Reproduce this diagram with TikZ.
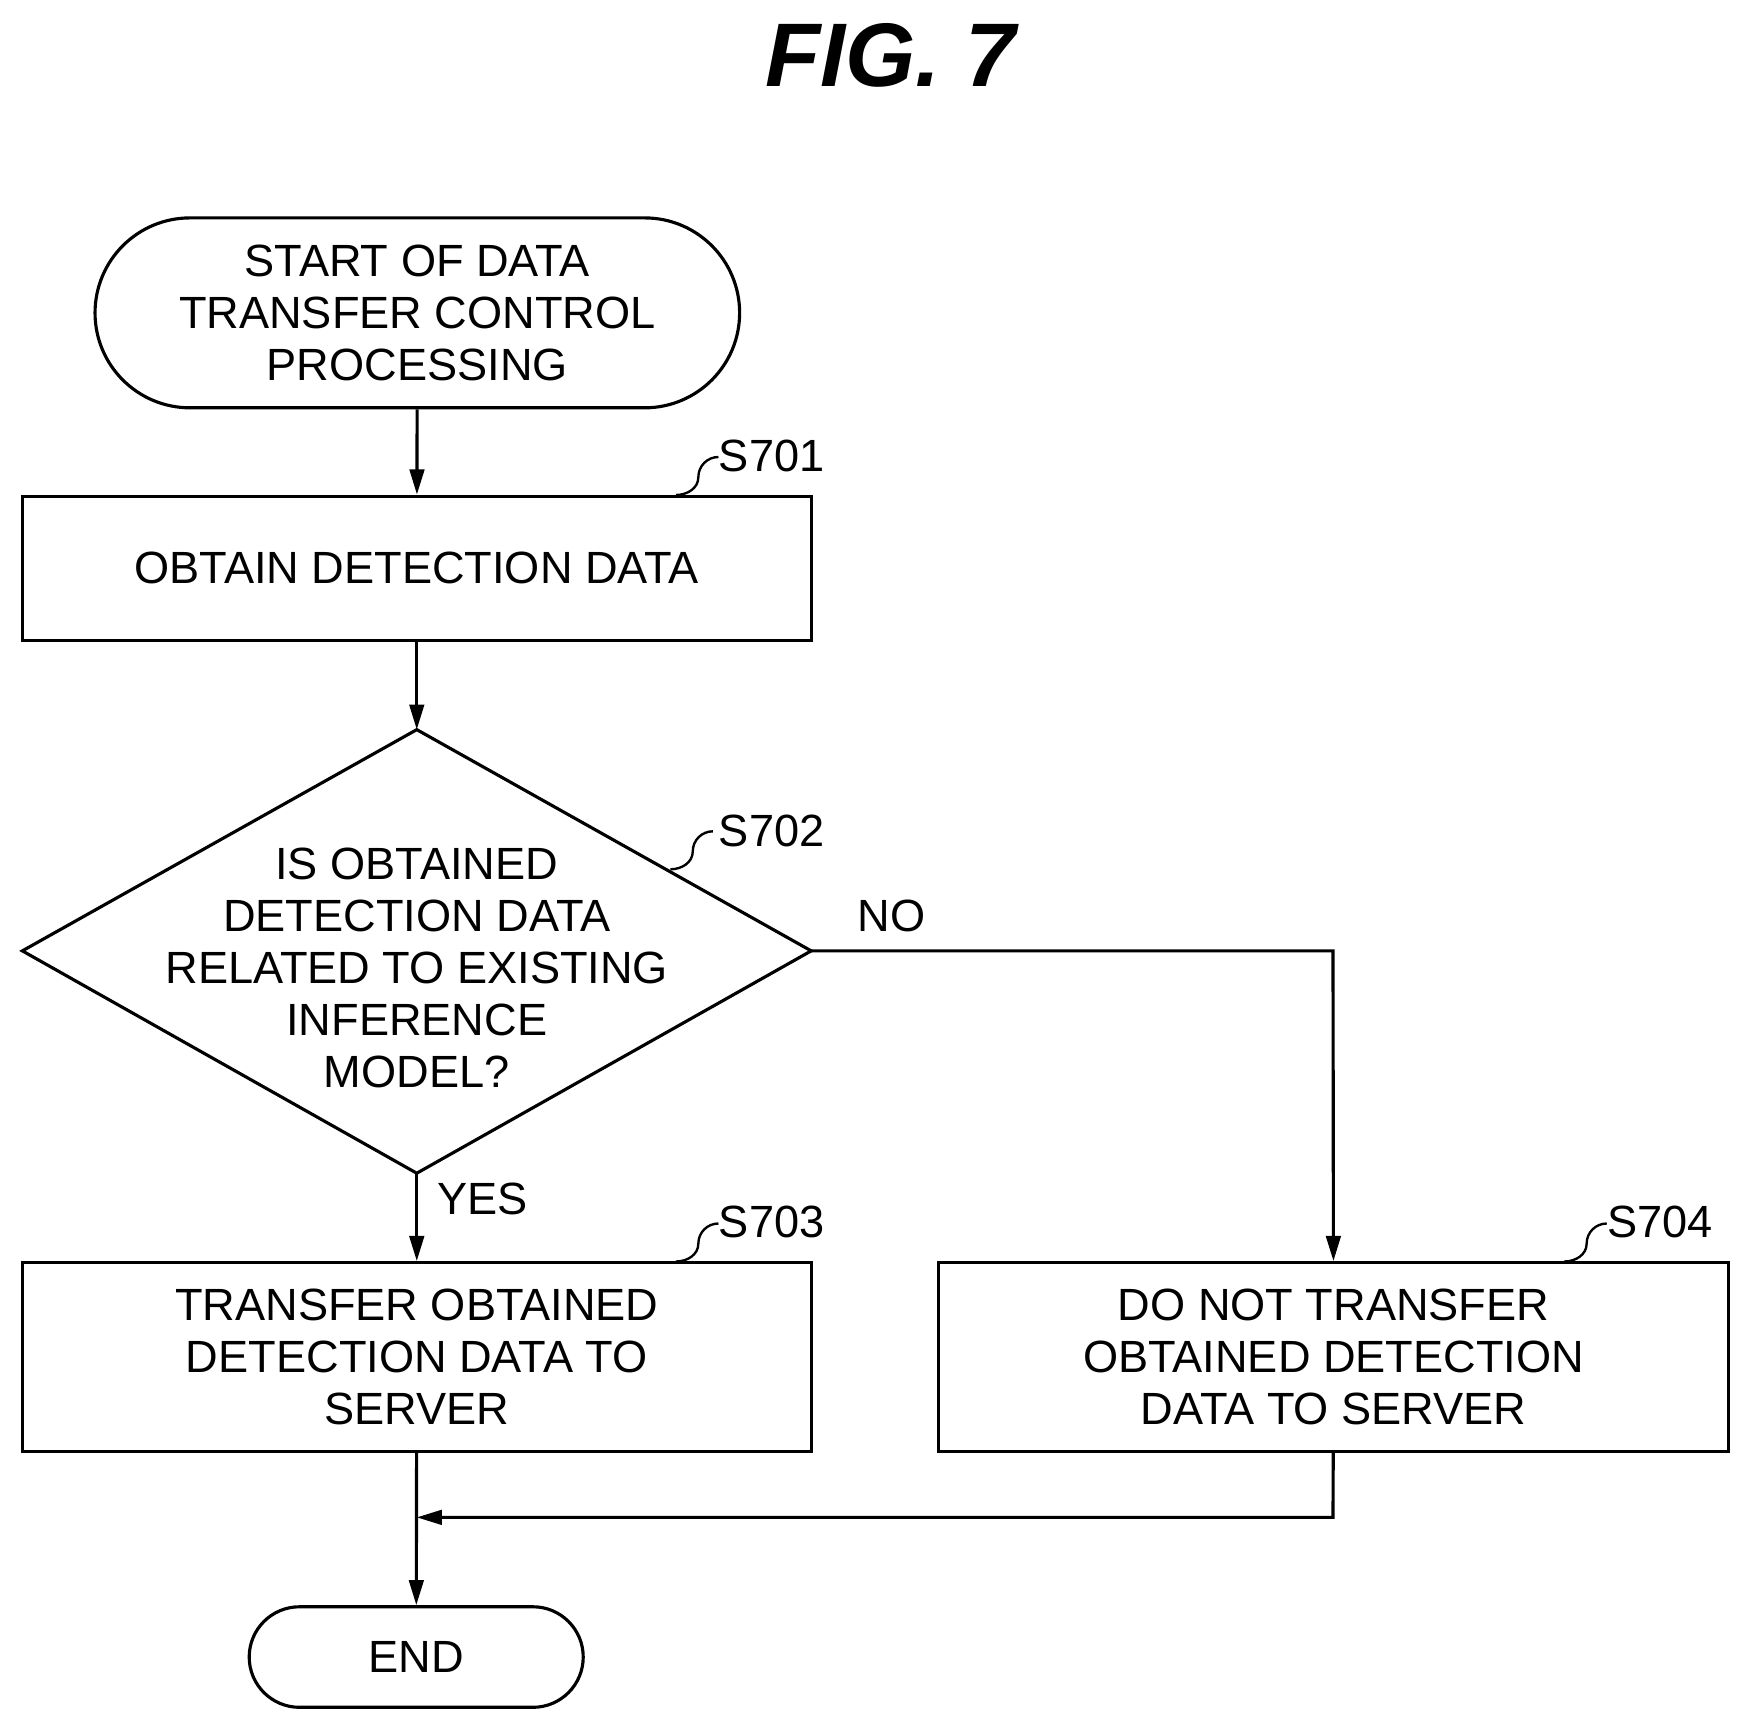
\documentclass[tikz,border=0pt]{standalone}
\usepackage{fontspec}
\setmainfont{Liberation Sans}
\usetikzlibrary{arrows.meta}
\begin{document}
\begin{tikzpicture}[x=0.02cm,y=-0.02cm,line width=1.6pt,
  txt/.style={font=\fontsize{23}{26.5}\selectfont,align=center,inner sep=0},
  box/.style={draw,rectangle,txt},
  arr/.style={-{Triangle[length=0.45cm,width=0.26cm]}},
  lbl/.style={font=\fontsize{23}{26}\selectfont,inner sep=0}]
\useasboundingbox (0,0) rectangle (1568,1548);
\node[font=\fontsize{46}{50}\selectfont\bfseries\itshape\rmfamily] (title) at (797,50) {FIG. 7};
\node[draw,txt,rounded corners=1.7cm,minimum width=11.54cm,minimum height=3.4cm] (start) at (373.5,280) {START OF DATA\\TRANSFER CONTROL\\PROCESSING};
\node[box,minimum width=14.12cm,minimum height=2.58cm] (s701) at (373,508.5) {OBTAIN DETECTION DATA};
\coordinate (dT) at (373,653); \coordinate (dB) at (373,1050);
\coordinate (dL) at (20,851); \coordinate (dR) at (726,851);
\draw (dT) -- (dR) -- (dB) -- (dL) -- cycle;
\node[txt] (q) at (373,866) {IS OBTAINED\\DETECTION DATA\\RELATED TO EXISTING\\INFERENCE\\MODEL?};
\node[box,minimum width=14.12cm,minimum height=3.38cm] (s703) at (373,1214.5) {TRANSFER OBTAINED\\DETECTION DATA TO\\SERVER};
\node[box,minimum width=14.14cm,minimum height=3.38cm] (s704) at (1193.5,1214.5) {DO NOT TRANSFER\\OBTAINED DETECTION\\DATA TO SERVER};
\node[draw,txt,rounded corners=0.9cm,minimum width=5.98cm,minimum height=1.8cm] (end) at (372.5,1483) {END};
\coordinate (cNo) at (1193,851);
\coordinate (cJ) at (1193,1358);
\coordinate (cM) at (373,1358);
\draw[arr] (start) -- (s701);
\draw[arr] (s701) -- (dT);
\draw[arr] (dB) -- (s703);
\draw[arr] (dR) -- (cNo) -- (s704);
\draw[arr] (s703) -- (end);
\draw[arr] (s704) -- (cJ) -- (cM);
\node[lbl,anchor=west] (yes) at (390,1073) {YES};
\node[lbl] (no) at (798,820) {NO};
\node[lbl,anchor=west] (l701) at (642,408) {S701};
\node[lbl,anchor=west] (l702) at (642,744) {S702};
\node[lbl,anchor=west] (l703) at (642,1094) {S703};
\node[lbl,anchor=west] (l704) at (1437,1094) {S704};
\foreach \x/\y/\n in {605/443/l701,600/778/l702,605/1129/l703,1400/1129/l704}{
  \draw[line width=1.2pt] (\x,\y) to[out=0,in=-90] (\x+20,\y-16) to[out=90,in=180] (\x+38,\y-34);
}
\end{tikzpicture}
\end{document}
